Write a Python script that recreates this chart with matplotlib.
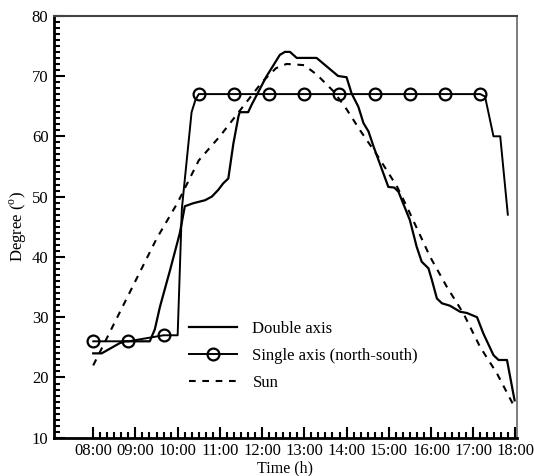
import matplotlib
matplotlib.use("Agg")
import matplotlib.pyplot as plt
import numpy as np

plt.rcParams['font.family'] = ['Liberation Serif', 'DejaVu Serif']
plt.rcParams['mathtext.fontset'] = 'custom'
plt.rcParams['mathtext.rm'] = 'Liberation Serif'

# ---- data (hours as decimal, degrees) ----
double_t = [8.0, 8.2, 8.63, 8.75, 9.34, 9.46, 9.58, 9.82, 10.05, 10.17, 10.37, 10.65,
            10.81, 10.96, 11.08, 11.2, 11.32, 11.44, 11.47, 11.67, 11.75, 11.87, 12.1,
            12.27, 12.42, 12.54, 12.66, 12.82, 13.29, 13.8, 14.0, 14.12, 14.28, 14.4,
            14.52, 14.64, 14.99, 15.13, 15.23, 15.31, 15.5, 15.66, 15.78, 15.94, 16.02,
            16.14, 16.26, 16.45, 16.69, 16.85, 17.09, 17.24, 17.48, 17.6, 17.8, 17.98]
double_v = [24, 24, 25.7, 26, 26, 28, 31.7, 37.8, 43.9, 48.4, 48.9, 49.4,
            50, 51.1, 52.2, 53, 58.8, 63.3, 64, 64, 65.2, 66.8, 69.9,
            71.8, 73.5, 74, 74, 73, 73, 70, 69.8, 67.1, 64.9, 62.2,
            60.8, 58.3, 51.6, 51.5, 50.8, 49.4, 46.1, 41.7, 39.2, 38.1, 36.2,
            33.1, 32.3, 31.9, 30.9, 30.7, 30, 27.3, 23.7, 22.9, 22.9, 16.2]

single_t = [8.0, 8.833, 9.667, 10.0, 10.1, 10.33, 10.42, 10.5, 11.333, 12.167, 13.0,
            13.833, 14.667, 15.5, 16.333, 17.167, 17.28, 17.48, 17.64, 17.82]
single_v = [26, 26, 27, 27, 48, 64, 66, 67, 67, 67, 67,
            67, 67, 67, 67, 67, 66.6, 60, 60, 47]
single_markers = [0, 1, 2, 7, 8, 9, 10, 11, 12, 13, 14, 15]

sun_t = [8.0, 8.5, 9.0, 9.5, 10.0, 10.5, 11.0, 11.5, 12.0, 12.33, 12.58, 13.0, 13.3,
         13.7, 14.0, 14.32, 14.75, 15.2, 15.43, 15.98, 16.37, 16.77, 17.16, 17.56, 18.0]
sun_v = [22, 29, 36, 43, 49, 56, 60, 64.5, 69, 71.3, 72, 71.8, 70.2,
         67.4, 64.5, 61, 56.6, 51.6, 48.3, 40, 35.1, 30.6, 25.1, 20.7, 14.8]

hour_ticks = [8, 9, 10, 11, 12, 13, 14, 15, 16, 17, 18]
hour_labels = ['08:00', '09:00', '10:00', '11:00', '12:00', '13:00', '14:00',
               '15:00', '16:00', '17:00', '18:00']
y_ticks = [10, 20, 30, 40, 50, 60, 70, 80]

fig = plt.figure(figsize=(5.34, 4.76), dpi=100)
ax = fig.add_axes([0.101, 0.0803, 0.8666, 0.8867])

ax.plot(double_t, double_v, color='black', lw=1.6, label='Double axis')
ax.plot(single_t, single_v, color='black', lw=1.4, marker='o', markevery=single_markers,
        markersize=8.5, markerfacecolor='none', markeredgewidth=1.6,
        label='Single axis (north-south)')
ax.plot(sun_t, sun_v, color='black', lw=1.5, linestyle=(0, (3.2, 3.2)), label='Sun')

ax.set_xlim(7.07, 18.03)
ax.set_ylim(10, 80)
ax.set_xticks(hour_ticks)
ax.set_xticklabels(hour_labels)
minor_x = [8 + i / 6 for i in range(61) if i % 6 != 0]
ax.set_xticks(minor_x, minor=True)
ax.set_yticks(y_ticks)
ax.set_yticks(np.arange(10, 81, 1), minor=True)

ax.tick_params(axis='both', which='major', direction='in', length=8, width=1.5,
               labelsize=12, color='black')
ax.tick_params(axis='both', which='minor', direction='in', length=4.3, width=1.5)
ax.tick_params(axis='x', which='major', pad=4)
ax.tick_params(axis='y', which='major', pad=4)

for s in ['left', 'bottom']:
    ax.spines[s].set_linewidth(2.0)
ax.spines['top'].set_linewidth(1.5)
ax.spines['top'].set_color('#444444')
ax.spines['right'].set_linewidth(1.2)
ax.spines['right'].set_color('#666666')

ax.set_xlabel('Time (h)', fontsize=11.5, labelpad=0.5)
ax.set_ylabel('Degree ($^{\\mathrm{o}}$)', fontsize=12, labelpad=2)

ax.legend(loc='upper left', bbox_to_anchor=(0.292, 0.276), frameon=False,
          fontsize=12, handlelength=2.9, handletextpad=0.9, labelspacing=0.66,
          borderpad=0, borderaxespad=0)

fig.savefig('out.png', dpi=100)
